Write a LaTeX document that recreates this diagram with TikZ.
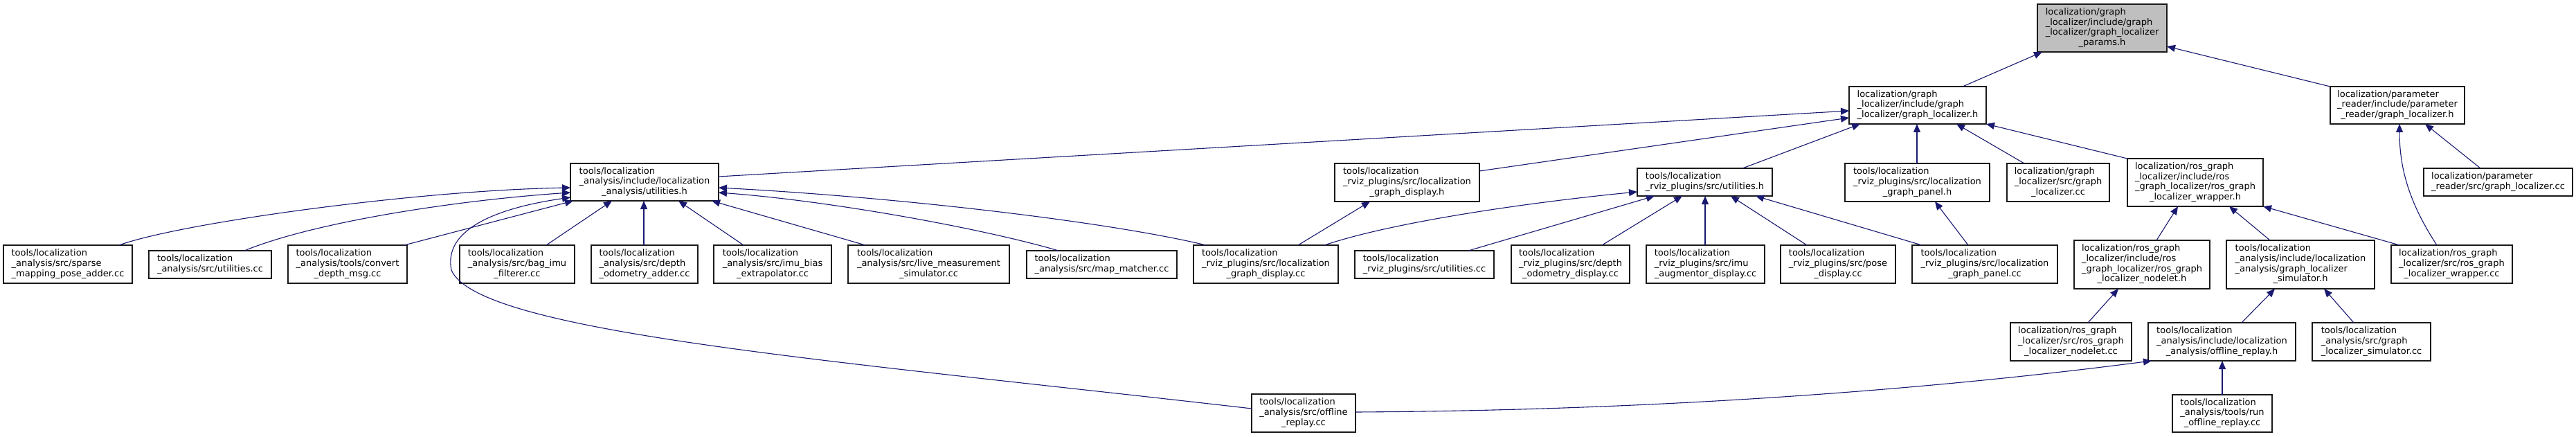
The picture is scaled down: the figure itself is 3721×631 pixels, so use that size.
\documentclass[tikz,border=0pt]{standalone}
\usepackage{fontspec}
\setmainfont{DejaVu Sans}
\usetikzlibrary{arrows.meta}
\definecolor{edgeblue}{HTML}{191970}
\definecolor{rootgray}{HTML}{BFBFBF}
\newcommand{\dl}[2]{\begin{tabular}{@{}l@{}}#1\\\multicolumn{1}{@{}c@{}}{#2}\end{tabular}}
\begin{document}
\begin{tikzpicture}[x=1pt,y=-1pt,
  box/.style={draw=black!90, line width=1.2pt, fill=white, inner sep=0pt, outer sep=0pt,
    font=\fontsize{13}{14.7}\selectfont},
  edge/.style={draw=edgeblue, line width=1.1pt, -{Triangle[length=12pt,width=10pt]}}]
\fill[white] (0,0) rectangle (3721,631);
\useasboundingbox (0,0) rectangle (3721,631);
% row 1
\node[box, fill=rootgray, minimum width=187pt, minimum height=69pt] (T) at (3036.5,40.5)
  {\dl{localization/graph\\\_localizer/include/graph\\\_localizer/graph\_localizer}{\_params.h}};
% row 2
\node[box, minimum width=198pt, minimum height=54pt] (GLH) at (2770,152)
  {\dl{localization/graph\\\_localizer/include/graph}{\_localizer/graph\_localizer.h}};
\node[box, minimum width=194pt, minimum height=54pt] (PRH) at (3463,152)
  {\dl{localization/parameter\\\_reader/include/parameter}{\_reader/graph\_localizer.h}};
% row 3
\node[box, minimum width=214pt, minimum height=54pt] (AUH) at (931,263)
  {\dl{tools/localization\\\_analysis/include/localization}{\_analysis/utilities.h}};
\node[box, minimum width=209pt, minimum height=55pt] (GDH) at (2032.5,263.5)
  {\dl{tools/localization\\\_rviz\_plugins/src/localization}{\_graph\_display.h}};
\node[box, minimum width=195pt, minimum height=40pt] (RUH) at (2462.5,263)
  {\dl{tools/localization}{\_rviz\_plugins/src/utilities.h}};
\node[box, minimum width=209pt, minimum height=55pt] (GPH) at (2769.5,263.5)
  {\dl{tools/localization\\\_rviz\_plugins/src/localization}{\_graph\_panel.h}};
\node[box, minimum width=148pt, minimum height=55pt] (GLcc) at (2973,263.5)
  {\dl{localization/graph\\\_localizer/src/graph}{\_localizer.cc}};
\node[box, minimum width=196pt, minimum height=69pt] (WH) at (3171,263.5)
  {\dl{localization/ros\_graph\\\_localizer/include/ros\\\_graph\_localizer/ros\_graph}{\_localizer\_wrapper.h}};
\node[box, minimum width=215pt, minimum height=40pt] (PRcc) at (3608.5,263)
  {\dl{localization/parameter}{\_reader/src/graph\_localizer.cc}};
% row 4
\node[box, minimum width=186pt, minimum height=55pt] (SP) at (98,381.5)
  {\dl{tools/localization\\\_analysis/src/sparse}{\_mapping\_pose\_adder.cc}};
\node[box, minimum width=177pt, minimum height=40pt] (UCC) at (303.5,382)
  {\dl{tools/localization}{\_analysis/src/utilities.cc}};
\node[box, minimum width=172pt, minimum height=55pt] (CV) at (502,381.5)
  {\dl{tools/localization\\\_analysis/tools/convert}{\_depth\_msg.cc}};
\node[box, minimum width=166pt, minimum height=55pt] (BAG) at (747,381.5)
  {\dl{tools/localization\\\_analysis/src/bag\_imu}{\_filterer.cc}};
\node[box, minimum width=154pt, minimum height=55pt] (DA) at (931,381.5)
  {\dl{tools/localization\\\_analysis/src/depth}{\_odometry\_adder.cc}};
\node[box, minimum width=170pt, minimum height=55pt] (IB) at (1116,381.5)
  {\dl{tools/localization\\\_analysis/src/imu\_bias}{\_extrapolator.cc}};
\node[box, minimum width=233pt, minimum height=55pt] (LM) at (1341.5,381.5)
  {\dl{tools/localization\\\_analysis/src/live\_measurement}{\_simulator.cc}};
\node[box, minimum width=217pt, minimum height=40pt] (MM) at (1591.5,382)
  {\dl{tools/localization}{\_analysis/src/map\_matcher.cc}};
\node[box, minimum width=209pt, minimum height=55pt] (GDcc) at (1828.5,381.5)
  {\dl{tools/localization\\\_rviz\_plugins/src/localization}{\_graph\_display.cc}};
\node[box, minimum width=201pt, minimum height=40pt] (RUcc) at (2057.5,382)
  {\dl{tools/localization}{\_rviz\_plugins/src/utilities.cc}};
\node[box, minimum width=171pt, minimum height=55pt] (DOD) at (2268.5,381.5)
  {\dl{tools/localization\\\_rviz\_plugins/src/depth}{\_odometry\_display.cc}};
\node[box, minimum width=171pt, minimum height=55pt] (IAD) at (2463.5,381.5)
  {\dl{tools/localization\\\_rviz\_plugins/src/imu}{\_augmentor\_display.cc}};
\node[box, minimum width=166pt, minimum height=55pt] (PD) at (2655,381.5)
  {\dl{tools/localization\\\_rviz\_plugins/src/pose}{\_display.cc}};
\node[box, minimum width=210pt, minimum height=55pt] (GPcc) at (2867,381.5)
  {\dl{tools/localization\\\_rviz\_plugins/src/localization}{\_graph\_panel.cc}};
\node[box, minimum width=196pt, minimum height=70pt] (NH) at (3094,382)
  {\dl{localization/ros\_graph\\\_localizer/include/ros\\\_graph\_localizer/ros\_graph}{\_localizer\_nodelet.h}};
\node[box, minimum width=214pt, minimum height=70pt] (SH) at (3323,382)
  {\dl{tools/localization\\\_analysis/include/localization\\\_analysis/graph\_localizer}{\_simulator.h}};
\node[box, minimum width=175pt, minimum height=55pt] (Wcc) at (3541.5,381.5)
  {\dl{localization/ros\_graph\\\_localizer/src/ros\_graph}{\_localizer\_wrapper.cc}};
% row 5
\node[box, minimum width=175pt, minimum height=55pt] (NCC) at (2991.5,493.5)
  {\dl{localization/ros\_graph\\\_localizer/src/ros\_graph}{\_localizer\_nodelet.cc}};
\node[box, minimum width=213pt, minimum height=55pt] (ORH) at (3209.5,493.5)
  {\dl{tools/localization\\\_analysis/include/localization}{\_analysis/offline\_replay.h}};
\node[box, minimum width=171pt, minimum height=55pt] (SCC) at (3425.5,493.5)
  {\dl{tools/localization\\\_analysis/src/graph}{\_localizer\_simulator.cc}};
% row 6
\node[box, minimum width=150pt, minimum height=55pt] (ORcc) at (1883,596.5)
  {\dl{tools/localization\\\_analysis/src/offline}{\_replay.cc}};
\node[box, minimum width=144pt, minimum height=54pt] (RCC) at (3210,597)
  {\dl{tools/localization\\\_analysis/tools/run}{\_offline\_replay.cc}};
% edges
\draw[edge] (2835,0 |- GLH.north) -- (2950,0 |- T.south);
\draw[edge] (PRH.north west) -- (T.east |- 0,67);
\draw[edge] (AUH.east |- 0,255) -- (GLH.west |- 0,160);
\draw[edge] (GDH.east |- 0,247) -- (GLH.west |- 0,170);
\draw[edge] (2517,0 |- RUH.north) -- (2687,0 |- GLH.south);
\draw[edge] (2769,0 |- GPH.north) -- (2769,0 |- GLH.south);
\draw[edge] (2924,0 |- GLcc.north) -- (2826,0 |- GLH.south);
\draw[edge] (WH.north west) -- (GLH.south east);
\draw[edge] (3583,0 |- PRcc.north) -- (3503,0 |- PRH.south);
\draw[edge] (3520,0 |- Wcc.north) .. controls (3478,290) and (3466,240) .. (3466,0 |- PRH.south);
\draw[edge] (3115,0 |- NH.north) -- (3146,0 |- WH.south);
\draw[edge] (3279,0 |- SH.north) -- (3220,0 |- WH.south);
\draw[edge] (3466,0 |- Wcc.north) -- (WH.south east);
\draw[edge] (3016,0 |- NCC.north) -- (3060,0 |- NH.south);
\draw[edge] (3238,0 |- ORH.north) -- (3286,0 |- SH.south);
\draw[edge] (3400,0 |- SCC.north) -- (3357,0 |- SH.south);
\draw[edge] (3210,0 |- RCC.north) -- (3210,0 |- ORH.south);
\draw[edge] (ORcc.east |- 0,595) .. controls (2500,592) and (2900,548) .. (3108,0 |- ORH.south);
\draw[edge] (2843,0 |- GPcc.north) -- (2795,0 |- GPH.south);
\draw[edge] (1875,0 |- GDcc.north) -- (1979,0 |- GDH.south);
\draw[edge] (1913,0 |- GDcc.north) .. controls (2020,318) and (2230,290) .. (RUH.west |- 0,277);
\draw[edge] (2121,0 |- RUcc.north) -- (2390,0 |- RUH.south);
\draw[edge] (2314,0 |- DOD.north) -- (2430,0 |- RUH.south);
\draw[edge] (2463,0 |- IAD.north) -- (2463,0 |- RUH.south);
\draw[edge] (2610,0 |- PD.north) -- (2500,0 |- RUH.south);
\draw[edge] (2776,0 |- GPcc.north) -- (2536,0 |- RUH.south);
\draw[edge] (172,0 |- SP.north) .. controls (260,322) and (600,275) .. (AUH.west |- 0,271);
\draw[edge] (353,0 |- UCC.north) .. controls (450,322) and (650,290) .. (AUH.west |- 0,278);
\draw[edge] (584,0 |- CV.north) -- (828,0 |- AUH.south);
\draw[edge] (ORcc.west |- 0,590) .. controls (1200,520) and (690,480) .. (652,390)
  .. controls (640,330) and (720,300) .. (AUH.west |- 0,285);
\draw[edge] (789,0 |- BAG.north) -- (884,0 |- AUH.south);
\draw[edge] (930,0 |- DA.north) -- (930,0 |- AUH.south);
\draw[edge] (1074,0 |- IB.north) -- (980,0 |- AUH.south);
\draw[edge] (1250,0 |- LM.north) -- (1028,0 |- AUH.south);
\draw[edge] (1529,0 |- MM.north) .. controls (1420,330) and (1200,290) .. (AUH.east |- 0,278);
\draw[edge] (1742,0 |- GDcc.north) .. controls (1600,320) and (1300,285) .. (AUH.east |- 0,271);
\end{tikzpicture}
\end{document}
